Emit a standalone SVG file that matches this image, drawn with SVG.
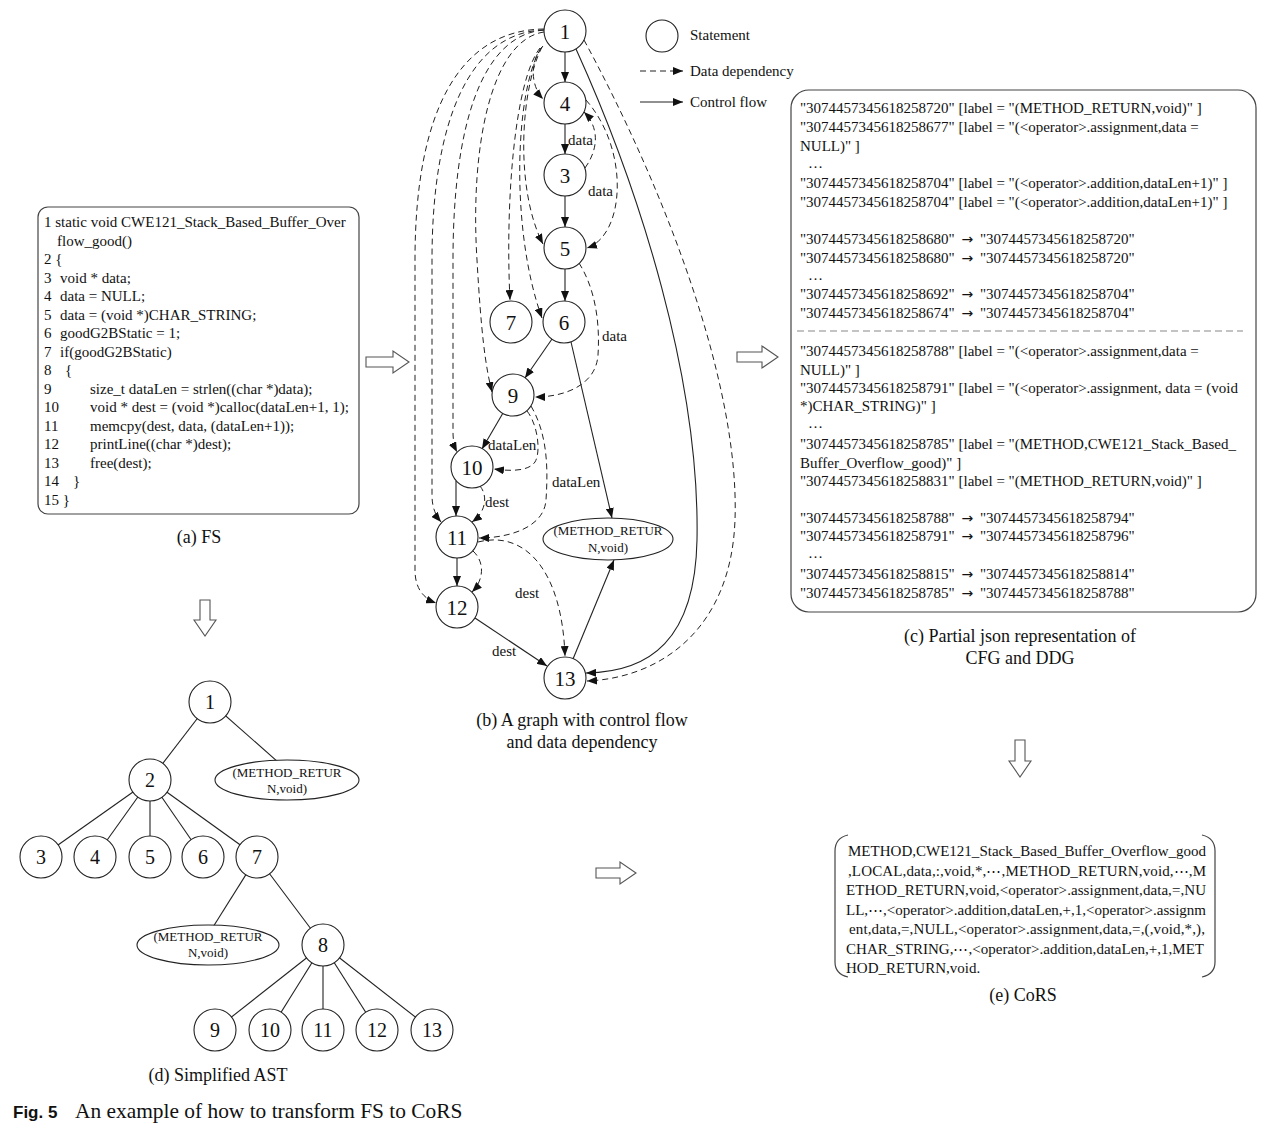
<svg xmlns="http://www.w3.org/2000/svg" width="1268" height="1142" viewBox="0 0 1268 1142">
<defs>
<style>
text{font-family:"Liberation Serif","Times New Roman",serif;fill:#111;}
.t{font-size:15px;}
.ar{font-family:"DejaVu Sans",sans-serif;font-size:14px;}
.cap{font-size:18px;text-anchor:middle;}
.num{font-size:21px;text-anchor:middle;}
.anum{font-size:20px;text-anchor:middle;}
.el{font-size:13px;text-anchor:middle;}
.lbl{font-size:15px;}
.nd{fill:#fff;stroke:#222;stroke-width:1.1;}
.cf{fill:none;stroke:#222;stroke-width:1.1;marker-end:url(#ah);}
.dd{fill:none;stroke:#222;stroke-width:1;stroke-dasharray:6,4;marker-end:url(#ah);}
.ast{stroke:#222;stroke-width:1.1;fill:none;}
.box{fill:#fff;stroke:#444;stroke-width:1.2;}
.harrow{fill:#fff;stroke:#555;stroke-width:1.1;}
</style>
<marker id="ah" viewBox="0 0 10 8" refX="10" refY="4" markerWidth="10" markerHeight="8" markerUnits="userSpaceOnUse" orient="auto"><path d="M0,0 L10,4 L0,8 z" fill="#111"/></marker>
</defs>
<rect width="1268" height="1142" fill="#fff"/>

<!-- (a) FS code box -->
<g id="fs">
<rect class="box" x="38" y="207" width="321" height="307" rx="10"/>
<text class="t" x="44" y="227">1 static void CWE121_Stack_Based_Buffer_Over</text>
<text class="t" x="57" y="245.5">flow_good()</text>
<text class="t" x="44" y="264">2 {</text>
<text class="t" x="44" y="282.5">3</text><text class="t" x="60" y="282.5">void * data;</text>
<text class="t" x="44" y="301">4</text><text class="t" x="60" y="301">data = NULL;</text>
<text class="t" x="44" y="319.5">5</text><text class="t" x="60" y="319.5">data = (void *)CHAR_STRING;</text>
<text class="t" x="44" y="338">6</text><text class="t" x="60" y="338">goodG2BStatic = 1;</text>
<text class="t" x="44" y="356.5">7</text><text class="t" x="60" y="356.5">if(goodG2BStatic)</text>
<text class="t" x="44" y="375">8</text><text class="t" x="65" y="375">{</text>
<text class="t" x="44" y="393.5">9</text><text class="t" x="90" y="393.5">size_t dataLen = strlen((char *)data);</text>
<text class="t" x="44" y="412">10</text><text class="t" x="90" y="412">void * dest = (void *)calloc(dataLen+1, 1);</text>
<text class="t" x="44" y="430.5">11</text><text class="t" x="90" y="430.5">memcpy(dest, data, (dataLen+1));</text>
<text class="t" x="44" y="449">12</text><text class="t" x="90" y="449">printLine((char *)dest);</text>
<text class="t" x="44" y="467.5">13</text><text class="t" x="90" y="467.5">free(dest);</text>
<text class="t" x="44" y="486">14</text><text class="t" x="73" y="486">}</text>
<text class="t" x="44" y="504.5">15 }</text>
</g>
<text class="cap" x="199" y="543">(a) FS</text>

<!-- hollow block arrows -->
<g id="block-arrows">
<polygon class="harrow" points="366,357 393,357 393,351 409,362 393,373 393,367 366,367"/>
<polygon class="harrow" points="737,352 762,352 762,346 778,357 762,368 762,362 737,362"/>
<polygon class="harrow" points="596,868 620,868 620,862 636,873 620,884 620,878 596,878"/>
<polygon class="harrow" points="200,600 210,600 210,620 216,620 205,636 194,620 200,620"/>
<polygon class="harrow" points="1015,740 1025,740 1025,761 1031,761 1020,777 1009,761 1015,761"/>
</g>

<!-- (b) graph connectors -->
<g id="graph-connectors">
<!-- control flow -->
<path class="cf" d="M565,52 L565,82"/>
<path class="cf" d="M565,124 L565,154"/>
<path class="cf" d="M565,196 L565,227"/>
<path class="cf" d="M565,269 L565,301"/>
<path class="cf" d="M552,339 L525,378"/>
<path class="cf" d="M503,413 L482,449"/>
<path class="cf" d="M456,481 L456,516"/>
<path class="cf" d="M457,558 L457,586"/>
<path class="cf" d="M475,618 L547,666"/>
<path class="cf" d="M571,342 L612,518"/>
<path class="cf" d="M573,659 L614,560"/>
<path class="cf" d="M576,49 C640,190 700,380 697,540 C695,640 650,672 586,673"/>
<!-- data dependency from 1 -->
<path class="dd" d="M584,40 C660,180 740,380 735,520 C731,630 660,678 587,681"/>
<path class="dd" d="M544,29 C460,30 415,110 415,260 L415,570 C415,590 425,599 436,603"/>
<path class="dd" d="M544,30 C470,32 432,120 432,260 L432,495 C432,508 436,516 441,522"/>
<path class="dd" d="M544,30 C480,35 453,130 453,260 L453,432 C453,442 455,448 457,452"/>
<path class="dd" d="M544,32 C490,40 470,150 477,260 C481,330 485,365 492,392"/>
<path class="dd" d="M540,48 C515,80 505,200 510,300"/>
<path class="dd" d="M541,48 C515,90 510,230 542,318"/>
<path class="dd" d="M542,47 C520,90 515,190 543,244"/>
<path class="dd" d="M543,46 C530,60 530,85 543,99"/>
<!-- other data dependencies -->
<path class="dd" d="M585,168 C598,150 600,128 584,112"/>
<path class="dd" d="M586,100 C630,150 625,235 587,248"/>
<path class="dd" d="M579,263 C596,290 600,325 598,355 C596,385 565,397 535,397"/>
<path class="dd" d="M527,411 C538,425 541,452 535,462 C528,472 508,471 494,469"/>
<path class="dd" d="M531,406 C548,435 548,470 546,500 C544,528 508,538 479,538"/>
<path class="dd" d="M480,486 C488,496 486,512 472,522"/>
<path class="dd" d="M473,551 C485,562 484,580 472,592"/>
<path class="dd" d="M478,542 C525,530 562,570 565,656"/>
</g>
<g id="graph-labels">
<text class="lbl" x="568" y="145">data</text>
<text class="lbl" x="588" y="196">data</text>
<text class="lbl" x="602" y="341">data</text>
<text class="lbl" x="488" y="450">dataLen</text>
<text class="lbl" x="552" y="487">dataLen</text>
<text class="lbl" x="485" y="507">dest</text>
<text class="lbl" x="515" y="598">dest</text>
<text class="lbl" x="492" y="656">dest</text>
</g>

<!-- (b) graph nodes -->
<g id="g1"><circle class="nd" cx="565" cy="31" r="21"/><text class="num" x="565" y="38.5">1</text></g>
<g id="g4"><circle class="nd" cx="565" cy="103" r="21"/><text class="num" x="565" y="110.5">4</text></g>
<g id="g3"><circle class="nd" cx="565" cy="175" r="21"/><text class="num" x="565" y="182.5">3</text></g>
<g id="g5"><circle class="nd" cx="565" cy="248" r="21"/><text class="num" x="565" y="255.5">5</text></g>
<g id="g7"><circle class="nd" cx="511" cy="322" r="21"/><text class="num" x="511" y="329.5">7</text></g>
<g id="g6"><circle class="nd" cx="564" cy="322" r="21"/><text class="num" x="564" y="329.5">6</text></g>
<g id="g9"><circle class="nd" cx="513" cy="395" r="21"/><text class="num" x="513" y="402.5">9</text></g>
<g id="g10"><circle class="nd" cx="472" cy="467" r="21"/><text class="num" x="472" y="474.5">10</text></g>
<g id="g11"><circle class="nd" cx="457" cy="537" r="21"/><text class="num" x="457" y="544.5">11</text></g>
<g id="g12"><circle class="nd" cx="457" cy="607" r="21"/><text class="num" x="457" y="614.5">12</text></g>
<g id="g13"><circle class="nd" cx="565" cy="678" r="21"/><text class="num" x="565" y="685.5">13</text></g>
<g id="gmr"><ellipse class="nd" cx="608" cy="539" rx="65" ry="21"/><text class="el" x="608" y="535">(METHOD_RETUR</text><text class="el" x="608" y="552">N,void)</text></g>
<text class="cap" x="582" y="726">(b) A graph with control flow</text>
<text class="cap" x="582" y="748">and data dependency</text>

<!-- legend -->
<g id="legend">
<circle class="nd" cx="662" cy="36" r="16"/>
<text class="lbl" x="690" y="40">Statement</text>
<path class="dd" d="M640,71 L683,71"/>
<text class="lbl" x="690" y="76">Data dependency</text>
<path class="cf" d="M640,102 L683,102"/>
<text class="lbl" x="690" y="107">Control flow</text>
</g>

<!-- (c) JSON box -->
<g id="json">
<rect class="box" x="791" y="90" width="465" height="522" rx="18"/>
<text class="t" x="800" y="113">"3074457345618258720" [label = "(METHOD_RETURN,void)" ]</text>
<text class="t" x="800" y="132">"3074457345618258677" [label = "(&lt;operator&gt;.assignment,data =</text>
<text class="t" x="800" y="150.5">NULL)" ]</text>
<text class="t" x="808" y="168">…</text>
<text class="t" x="800" y="188">"3074457345618258704" [label = "(&lt;operator&gt;.addition,dataLen+1)" ]</text>
<text class="t" x="800" y="206.5">"3074457345618258704" [label = "(&lt;operator&gt;.addition,dataLen+1)" ]</text>
<text class="t" x="800" y="244">"3074457345618258680" <tspan class="ar" dx="3">→</tspan><tspan dx="3"> "3074457345618258720"</tspan></text>
<text class="t" x="800" y="262.5">"3074457345618258680" <tspan class="ar" dx="3">→</tspan><tspan dx="3"> "3074457345618258720"</tspan></text>
<text class="t" x="808" y="280">…</text>
<text class="t" x="800" y="299">"3074457345618258692" <tspan class="ar" dx="3">→</tspan><tspan dx="3"> "3074457345618258704"</tspan></text>
<text class="t" x="800" y="317.5">"3074457345618258674" <tspan class="ar" dx="3">→</tspan><tspan dx="3"> "3074457345618258704"</tspan></text>
<line x1="797" y1="331" x2="1243" y2="331" stroke="#888" stroke-width="1.2" stroke-dasharray="7,4"/>
<text class="t" x="800" y="356">"3074457345618258788" [label = "(&lt;operator&gt;.assignment,data =</text>
<text class="t" x="800" y="374.5">NULL)" ]</text>
<text class="t" x="800" y="392.5">"3074457345618258791" [label = "(&lt;operator&gt;.assignment, data = (void</text>
<text class="t" x="800" y="411">*)CHAR_STRING)" ]</text>
<text class="t" x="808" y="428">…</text>
<text class="t" x="800" y="449">"3074457345618258785" [label = "(METHOD,CWE121_Stack_Based_</text>
<text class="t" x="800" y="467.5">Buffer_Overflow_good)" ]</text>
<text class="t" x="800" y="486">"3074457345618258831" [label = "(METHOD_RETURN,void)" ]</text>
<text class="t" x="800" y="522.5">"3074457345618258788" <tspan class="ar" dx="3">→</tspan><tspan dx="3"> "3074457345618258794"</tspan></text>
<text class="t" x="800" y="541">"3074457345618258791" <tspan class="ar" dx="3">→</tspan><tspan dx="3"> "3074457345618258796"</tspan></text>
<text class="t" x="808" y="558">…</text>
<text class="t" x="800" y="579">"3074457345618258815" <tspan class="ar" dx="3">→</tspan><tspan dx="3"> "3074457345618258814"</tspan></text>
<text class="t" x="800" y="597.5">"3074457345618258785" <tspan class="ar" dx="3">→</tspan><tspan dx="3"> "3074457345618258788"</tspan></text>
</g>
<text class="cap" x="1020" y="642">(c) Partial json representation of</text>
<text class="cap" x="1020" y="664">CFG and DDG</text>

<!-- (d) AST connectors -->
<g id="ast-connectors">
<line class="ast" x1="210" y1="702" x2="150" y2="780"/>
<line class="ast" x1="210" y1="702" x2="287" y2="770"/>
<line class="ast" x1="150" y1="780" x2="41" y2="857"/>
<line class="ast" x1="150" y1="780" x2="95" y2="857"/>
<line class="ast" x1="150" y1="780" x2="150" y2="857"/>
<line class="ast" x1="150" y1="780" x2="203" y2="857"/>
<line class="ast" x1="150" y1="780" x2="257" y2="857"/>
<line class="ast" x1="257" y1="857" x2="208" y2="935"/>
<line class="ast" x1="257" y1="857" x2="323" y2="945"/>
<line class="ast" x1="323" y1="945" x2="215" y2="1030"/>
<line class="ast" x1="323" y1="945" x2="270" y2="1030"/>
<line class="ast" x1="323" y1="945" x2="323" y2="1030"/>
<line class="ast" x1="323" y1="945" x2="377" y2="1030"/>
<line class="ast" x1="323" y1="945" x2="432" y2="1030"/>
</g>
<g id="a1"><circle class="nd" cx="210" cy="702" r="21"/><text class="anum" x="210" y="709">1</text></g>
<g id="a2"><circle class="nd" cx="150" cy="780" r="21"/><text class="anum" x="150" y="787">2</text></g>
<g id="amr1"><ellipse class="nd" cx="287" cy="780" rx="72" ry="20"/><text class="el" x="287" y="777">(METHOD_RETUR</text><text class="el" x="287" y="793">N,void)</text></g>
<g id="a3"><circle class="nd" cx="41" cy="857" r="21"/><text class="anum" x="41" y="864">3</text></g>
<g id="a4"><circle class="nd" cx="95" cy="857" r="21"/><text class="anum" x="95" y="864">4</text></g>
<g id="a5"><circle class="nd" cx="150" cy="857" r="21"/><text class="anum" x="150" y="864">5</text></g>
<g id="a6"><circle class="nd" cx="203" cy="857" r="21"/><text class="anum" x="203" y="864">6</text></g>
<g id="a7"><circle class="nd" cx="257" cy="857" r="21"/><text class="anum" x="257" y="864">7</text></g>
<g id="amr2"><ellipse class="nd" cx="208" cy="945" rx="71" ry="20"/><text class="el" x="208" y="941">(METHOD_RETUR</text><text class="el" x="208" y="957">N,void)</text></g>
<g id="a8"><circle class="nd" cx="323" cy="945" r="21"/><text class="anum" x="323" y="952">8</text></g>
<g id="a9"><circle class="nd" cx="215" cy="1030" r="21"/><text class="anum" x="215" y="1037">9</text></g>
<g id="a10"><circle class="nd" cx="270" cy="1030" r="21"/><text class="anum" x="270" y="1037">10</text></g>
<g id="a11"><circle class="nd" cx="323" cy="1030" r="21"/><text class="anum" x="323" y="1037">11</text></g>
<g id="a12"><circle class="nd" cx="377" cy="1030" r="21"/><text class="anum" x="377" y="1037">12</text></g>
<g id="a13"><circle class="nd" cx="432" cy="1030" r="21"/><text class="anum" x="432" y="1037">13</text></g>
<text class="cap" x="218" y="1081">(d) Simplified AST</text>

<!-- (e) CoRS -->
<g id="cors">
<path d="M848,835 Q835,838 835,851 L835,962 Q835,974 848,977" fill="none" stroke="#444" stroke-width="1.2"/>
<path d="M1202,835 Q1215,838 1215,851 L1215,962 Q1215,974 1202,977" fill="none" stroke="#444" stroke-width="1.2"/>
<text class="t" x="848" y="856" textLength="358" lengthAdjust="spacing">METHOD,CWE121_Stack_Based_Buffer_Overflow_good</text>
<text class="t" x="848" y="875.5" textLength="358" lengthAdjust="spacing">,LOCAL,data,:,void,*,⋯,METHOD_RETURN,void,⋯,M</text>
<text class="t" x="846" y="895" textLength="360" lengthAdjust="spacing">ETHOD_RETURN,void,&lt;operator&gt;.assignment,data,=,NU</text>
<text class="t" x="846" y="914.5" textLength="360" lengthAdjust="spacing">LL,⋯,&lt;operator&gt;.addition,dataLen,+,1,&lt;operator&gt;.assignm</text>
<text class="t" x="849" y="934" textLength="356" lengthAdjust="spacing">ent,data,=,NULL,&lt;operator&gt;.assignment,data,=,(,void,*,),</text>
<text class="t" x="846" y="953.5" textLength="358" lengthAdjust="spacing">CHAR_STRING,⋯,&lt;operator&gt;.addition,dataLen,+,1,MET</text>
<text class="t" x="846" y="973">HOD_RETURN,void.</text>
</g>
<text class="cap" x="1023" y="1001">(e) CoRS</text>

<!-- figure caption -->
<text x="13" y="1118" style="font-family:'Liberation Sans',Arial,sans-serif;font-weight:bold;font-size:17px;">Fig. 5</text>
<text x="75" y="1118" style="font-size:21.4px;">An example of how to transform FS to CoRS</text>
</svg>
